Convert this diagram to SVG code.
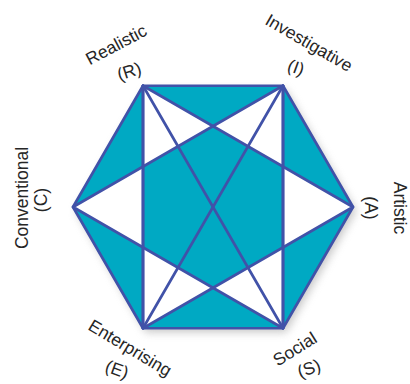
<svg xmlns="http://www.w3.org/2000/svg" width="410" height="384" viewBox="0 0 410 384">
<defs>
<filter id="sh" x="-20%" y="-20%" width="140%" height="140%">
<feGaussianBlur stdDeviation="4"/>
</filter>
<style>
.lbl{font-family:"Liberation Sans","DejaVu Sans",sans-serif;font-size:17.5px;fill:#262626;text-anchor:middle}
.ln{stroke:#4152a8;stroke-width:2.7;fill:none;stroke-linejoin:round;stroke-linecap:round}
.w{fill:#ffffff}
</style>
</defs>
<rect width="410" height="384" fill="#ffffff"/>
<g id="shadow">
<polygon points="146,89.76 286,89.76 356,211 286,332.24 146,332.24 76,211" fill="#9a9a9a" opacity="0.55" filter="url(#sh)"/>
</g>
<g id="hexagon">
<polygon points="143,85.76 283,85.76 353,207 283,328.24 143,328.24 73,207" fill="#00a9c3"/>
<polygon class="w" points="73,207 143,166.59 143,247.41"/>
<polygon class="w" points="353,207 283,166.59 283,247.41"/>
<polygon class="w" points="143,85.76 213,126.18 143,166.59"/>
<polygon class="w" points="283,85.76 213,126.18 283,166.59"/>
<polygon class="w" points="143,328.24 213,287.82 143,247.41"/>
<polygon class="w" points="283,328.24 213,287.82 283,247.41"/>
</g>
<g id="connectors">
<polygon class="ln" points="143,85.76 283,85.76 353,207 283,328.24 143,328.24 73,207"/>
<line class="ln" x1="143" y1="85.76" x2="143" y2="328.24"/>
<line class="ln" x1="283" y1="85.76" x2="283" y2="328.24"/>
<polygon class="ln" points="73,207 283,85.76 283,328.24"/>
<polygon class="ln" points="353,207 143,85.76 143,328.24"/>
<line class="ln" x1="143" y1="85.76" x2="283" y2="328.24"/>
<line class="ln" x1="283" y1="85.76" x2="143" y2="328.24"/>
</g>
<g id="node-R">
<text class="lbl" transform="translate(119,50) rotate(-28)">Realistic</text>
<text class="lbl" transform="translate(131,77) rotate(-18)">(R)</text>
</g>
<g id="node-I">
<text class="lbl" transform="translate(306,48) rotate(30)">Investigative</text>
<text class="lbl" transform="translate(294,73) rotate(20)">(I)</text>
</g>
<g id="node-A">
<text class="lbl" transform="translate(394,208) rotate(90)">Artistic</text>
<text class="lbl" transform="translate(365,208) rotate(90)">(A)</text>
</g>
<g id="node-S">
<text class="lbl" transform="translate(298,354) rotate(-32)">Social</text>
<text class="lbl" transform="translate(311,374) rotate(-20)">(S)</text>
</g>
<g id="node-E">
<text class="lbl" transform="translate(127,353) rotate(31)">Enterprising</text>
<text class="lbl" transform="translate(115,375) rotate(20)">(E)</text>
</g>
<g id="node-C">
<text class="lbl" transform="translate(28,198) rotate(-90)">Conventional</text>
<text class="lbl" transform="translate(47,200) rotate(-90)">(C)</text>
</g>
</svg>
